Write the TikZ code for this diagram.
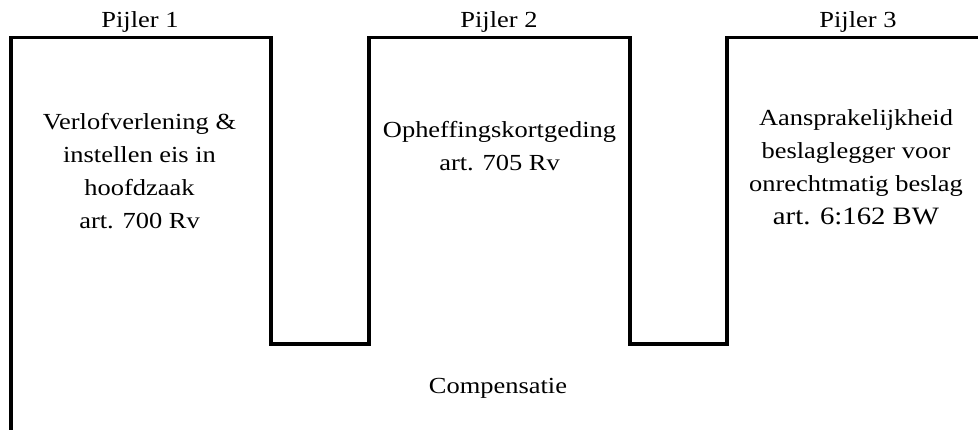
\documentclass[tikz,border=0pt]{standalone}
\usepackage{fontspec}
\setmainfont{Liberation Serif}[FakeStretch=1.15]
\begin{document}
\begin{tikzpicture}[x=1pt,y=-1pt,
  pillarline/.style={line width=3.5pt, line join=miter},
  pillarlabel/.style={anchor=base, font=\fontsize{23}{33}\selectfont, inner sep=0pt},
  blocktext/.style={anchor=base, align=center, font=\fontsize{23}{33}\selectfont, inner sep=0pt}]
  \fill[white] (0,0) rectangle (978,430);
  \useasboundingbox (0,0) rectangle (978,430);

  % corners of the three pillars and the two troughs between them
  \coordinate (start) at (11,430);
  \coordinate (p1tl) at (11,37.5);
  \coordinate (p1tr) at (271,37.5);
  \coordinate (t1l)  at (271,344);
  \coordinate (t1r)  at (369,344);
  \coordinate (p2tl) at (369,37.5);
  \coordinate (p2tr) at (630,37.5);
  \coordinate (t2l)  at (630,344);
  \coordinate (t2r)  at (727,344);
  \coordinate (p3tl) at (727,37.5);
  \coordinate (stop) at (978,37.5);

  \draw[pillarline] (start) -- (p1tl) -- (p1tr) -- (t1l) -- (t1r) -- (p2tl)
    -- (p2tr) -- (t2l) -- (t2r) -- (p3tl) -- (stop);

  % pillar headings
  \node[pillarlabel] (pijler1) at (140,27.3) {Pijler 1};
  \node[pillarlabel] (pijler2) at (499,27.3) {Pijler 2};
  \node[pillarlabel] (pijler3) at (858,27.3) {Pijler 3};

  % pillar contents (base anchor sits on the last line)
  \node[blocktext] (verlof) at (139.5,228.5)
    {Verlofverlening \&\\instellen eis in\\hoofdzaak\\art. 700 Rv};
  \node[blocktext] (opheffing) at (499.5,170.3)
    {Opheffingskortgeding\\art. 705 Rv};
  \node[blocktext] (aansprakelijkheid) at (856,225)
    {Aansprakelijkheid\\beslaglegger voor\\onrechtmatig beslag\\{\fontsize{25}{33}\selectfont art. 6:162 BW}};

  % base
  \node[pillarlabel] (compensatie) at (498,393.5) {Compensatie};
\end{tikzpicture}
\end{document}
